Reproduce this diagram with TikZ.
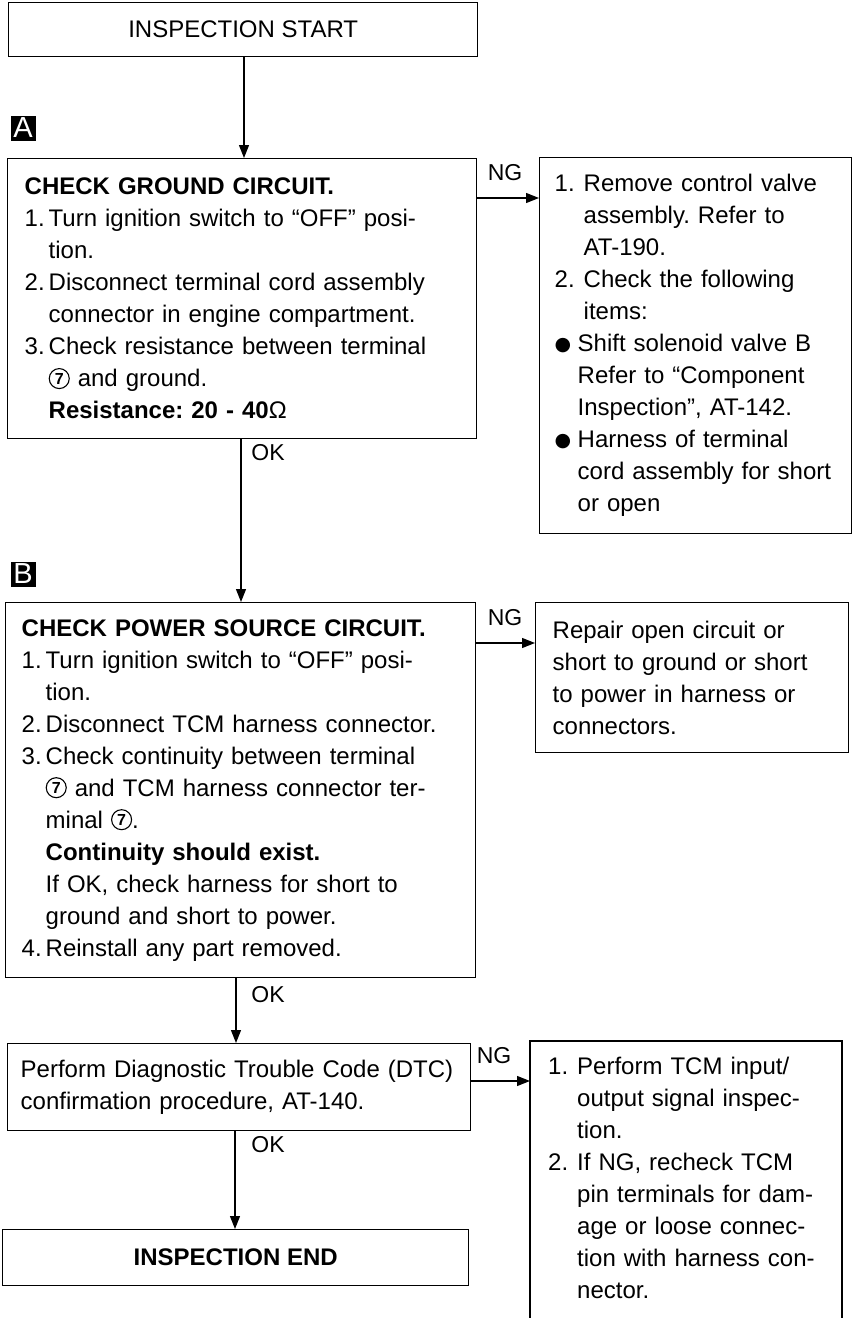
\documentclass[tikz,border=0pt]{standalone}
\usepackage{fontspec}
\setmainfont{Liberation Sans}
\newfontfamily\djv{DejaVu Sans}
\usetikzlibrary{arrows.meta}
\frenchspacing
\newcommand\numL[1]{\makebox[24pt][l]{#1}}
\newcommand\indL{\hspace*{24pt}}
\newcommand\numR[1]{\makebox[29pt][l]{#1}}
\newcommand\indR{\hspace*{29pt}}
\newcommand\bulR{\makebox[23pt][l]{\raisebox{1pt}{\djv\fontsize{19}{19}\selectfont ●}}}
\newcommand\indB{\hspace*{23pt}}
\newcommand\cseven[1]{\tikz[baseline=-8.4pt]{\draw[line width=1.1pt, draw=black, fill=none] (0,0) circle[radius=10pt];
  \node[anchor=center, draw=none, fill=none, minimum width=0pt, minimum height=0pt,
    text width={}, align=center, inner sep=0pt,
    font=\bfseries\fontsize{16}{16}\selectfont] (#1) at (0,0) {7};}}
\begin{document}
\begin{tikzpicture}[x=1pt,y=-1pt,
  boxline/.style={line width=1.4pt},
  box/.style={draw, boxline, anchor=north west, inner ysep=0pt, align=left,
    font=\fontsize{24}{32}\selectfont},
  plainbox/.style={draw, boxline, anchor=north west, inner sep=0pt, align=center,
    font=\fontsize{24}{32}\selectfont},
  lbl/.style={font=\fontsize{23}{23}\selectfont, inner sep=0pt},
  marker/.style={fill=black, text=white, minimum width=25pt, minimum height=25pt,
    inner sep=0pt, font=\fontsize{29}{29}\selectfont},
  arr/.style={line width=1.3pt, -{Triangle[length=13pt,width=10pt]}}]
\useasboundingbox (0,0) rectangle (853,1318);

% start
\node[plainbox, minimum width=469pt, minimum height=54pt] (start) at (8,2) {INSPECTION START};

% marker A
\node[marker] (mA) at (23,128) {A};

% box A
\node[box, inner xsep=17pt, text width=435pt, minimum height=280pt] (bA) at (7,158) {%
\textbf{CHECK GROUND CIRCUIT.}\\
\numL{1.}Turn ignition switch to “OFF” posi-\\
\indL tion.\\
\numL{2.}Disconnect terminal cord assembly\\
\indL connector in engine compartment.\\
\numL{3.}Check resistance between terminal\\
\indL\cseven{ca} and ground.\\
\indL\textbf{Resistance: 20 - 40}Ω};

% right box 1
\node[box, inner xsep=15pt, text width=282pt, minimum height=376pt] (r1) at (539,157) {%
\numR{1.}Remove control valve\\
\indR assembly. Refer to\\
\indR AT-190.\\
\numR{2.}Check the following\\
\indR items:\\
\bulR Shift solenoid valve B\\
\indB Refer to “Component\\
\indB Inspection”, AT-142.\\
\bulR Harness of terminal\\
\indB cord assembly for short\\
\indB or open};

% marker B
\node[marker] (mB) at (23,574) {B};

% box B
\node[box, inner xsep=16pt, text width=438pt, minimum height=375pt] (bB) at (5,602) {%
\textbf{CHECK POWER SOURCE CIRCUIT.}\\
\numL{1.}Turn ignition switch to “OFF” posi-\\
\indL tion.\\
\numL{2.}Disconnect TCM harness connector.\\
\numL{3.}Check continuity between terminal\\
\indL\cseven{cb} and TCM harness connector ter-\\
\indL minal \cseven{cc}.\\
\indL\textbf{Continuity should exist.}\\
\indL If OK, check harness for short to\\
\indL ground and short to power.\\
\numL{4.}Reinstall any part removed.};

% right box 2
\node[box, inner xsep=17pt, text width=279pt, minimum height=150pt] (r2) at (535,602) {%
Repair open circuit or\\
short to ground or short\\
to power in harness or\\
connectors.};

% DTC box
\node[box, inner xsep=13pt, text width=437pt, minimum height=87pt] (dtc) at (7,1043) {%
Perform Diagnostic Trouble Code (DTC)\\
confirmation procedure, AT-140.};

% right box 3 (open at the bottom)
\node[anchor=north west, inner xsep=18pt, inner ysep=0pt, text width=276pt, align=left,
  font=\fontsize{24}{32}\selectfont] (r3) at (530,1057) {%
\numR{1.}Perform TCM input/\\
\indR output signal inspec-\\
\indR tion.\\
\numR{2.}If NG, recheck TCM\\
\indR pin terminals for dam-\\
\indR age or loose connec-\\
\indR tion with harness con-\\
\indR nector.};
\coordinate (r3nw) at (530,1041);
\coordinate (r3ne) at (842,1041);
\draw[boxline] (r3nw |- 0,1320) -- (r3nw) -- (r3ne) -- (r3ne |- 0,1320);

% end box
\node[plainbox, minimum width=466pt, minimum height=56pt, font=\bfseries\fontsize{24}{32}\selectfont] (end) at (2,1229) {INSPECTION END};

% vertical connectors
\draw[arr] (start.south -| 244,0) -- (bA.north -| 244,0);
\draw[arr] (bA.south -| 241,0) -- (bB.north -| 241,0);
\draw[arr] (bB.south -| 236,0) -- (dtc.north -| 236,0);
\draw[arr] (dtc.south -| 235,0) -- (end.north -| 235,0);

% NG connectors
\draw[arr] (bA.east |- 0,198) -- (r1.west |- 0,198);
\draw[arr] (bB.east |- 0,643) -- (r2.west |- 0,643);
\draw[arr] (dtc.east |- 0,1081) -- (r3nw |- 0,1081);

% labels
\node[lbl] (ng1) at (505,173) {NG};
\node[lbl] (ng2) at (505,618) {NG};
\node[lbl] (ng3) at (494,1056) {NG};
\node[lbl] (ok1) at (268,453) {OK};
\node[lbl] (ok2) at (268,995) {OK};
\node[lbl] (ok3) at (268,1145) {OK};
\end{tikzpicture}
\end{document}
